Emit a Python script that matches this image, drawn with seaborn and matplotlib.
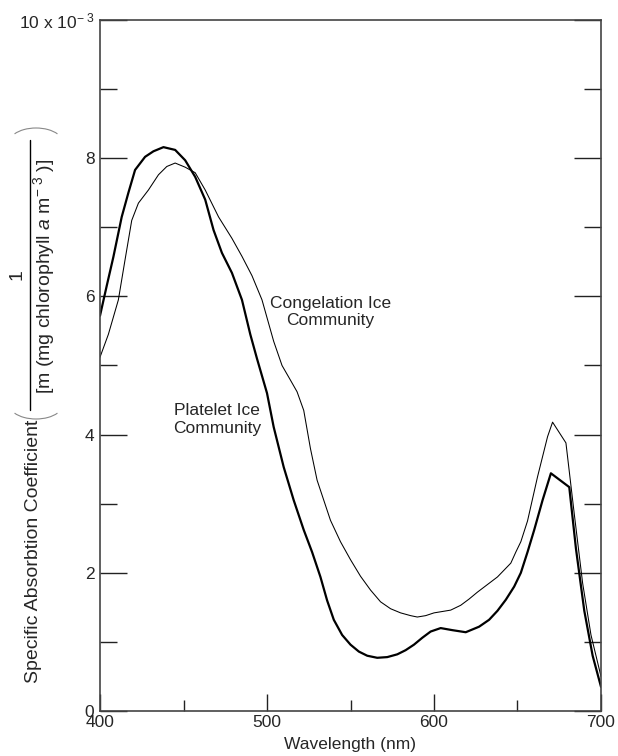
import matplotlib
matplotlib.use("Agg")

import matplotlib.pyplot as plt
from matplotlib.lines import Line2D
from matplotlib.patches import Arc
from matplotlib.ticker import MultipleLocator, FixedLocator
import seaborn as sns
import pandas as pd

# Platelet ice community (thick line), absorption x 10^-3
platelet_wl = [400, 404, 408, 413, 417, 421, 427, 432, 438, 445, 451, 457, 463,
               468, 473, 479, 485, 490, 494, 500, 504, 510, 516, 522, 527, 532,
               536, 540, 545, 550, 555, 560, 566, 572, 578, 583, 588, 593, 598,
               604, 611, 619, 627, 633, 638, 643, 648, 652, 656, 660, 665, 670,
               681, 685, 690, 695, 700]
platelet_val = [5.72, 6.15, 6.57, 7.15, 7.5, 7.83, 8.02, 8.1, 8.16, 8.12, 7.97,
                7.73, 7.4, 6.96, 6.63, 6.34, 5.95, 5.45, 5.1, 4.6, 4.11, 3.53,
                3.05, 2.62, 2.3, 1.94, 1.6, 1.32, 1.1, 0.96, 0.86, 0.8, 0.77,
                0.78, 0.82, 0.88, 0.96, 1.06, 1.15, 1.2, 1.17, 1.14, 1.22, 1.32,
                1.45, 1.61, 1.8, 2.0, 2.3, 2.62, 3.05, 3.44, 3.24, 2.35, 1.45,
                0.8, 0.35]

# Congelation ice community (thin line)
congelation_wl = [400, 405, 411, 415, 419, 423, 429, 435, 440, 445, 451, 457,
                  463, 471, 479, 485, 491, 497, 504, 509, 514, 518, 522, 526,
                  530, 538, 544, 550, 556, 562, 568, 574, 580, 586, 590, 595,
                  600, 605, 610, 616, 621, 626, 632, 638, 642, 646, 649, 652,
                  656, 662, 668, 671, 679, 684, 689, 694, 700]
congelation_val = [5.12, 5.45, 5.95, 6.53, 7.1, 7.35, 7.54, 7.76, 7.88, 7.93,
                   7.87, 7.79, 7.54, 7.15, 6.84, 6.58, 6.3, 5.95, 5.35, 5.0,
                   4.79, 4.62, 4.35, 3.8, 3.34, 2.76, 2.45, 2.19, 1.95, 1.75,
                   1.58, 1.48, 1.42, 1.38, 1.36, 1.38, 1.42, 1.44, 1.46, 1.53,
                   1.62, 1.72, 1.83, 1.94, 2.04, 2.14, 2.3, 2.45, 2.75, 3.39,
                   3.97, 4.18, 3.88, 2.85, 1.85, 1.1, 0.5]

x_ticks = [400, 500, 600, 700]
y_ticks = [0, 2, 4, 6, 8, 10]
y_tick_labels = ["0", "2", "4", "6", "8", r"10 x 10$^{-\ 3}$"]

sns.set_theme(style="ticks")
plt.rcParams["font.family"] = ["Liberation Sans", "DejaVu Sans"]
plt.rcParams["mathtext.fontset"] = "custom"
plt.rcParams["mathtext.rm"] = "Liberation Sans"
plt.rcParams["mathtext.it"] = "Liberation Sans:italic"
plt.rcParams["axes.unicode_minus"] = True

FS = 12.5
YL_FS = 14
W, H = 618, 756

fig = plt.figure(figsize=(W / 100, H / 100), dpi=100)
fig.patch.set_facecolor("white")
ax = fig.add_axes([100 / W, (H - 711) / H, (601 - 100) / W, (711 - 20) / H])

df_plat = pd.DataFrame({"wl": platelet_wl, "val": platelet_val})
df_cong = pd.DataFrame({"wl": congelation_wl, "val": congelation_val})
sns.lineplot(data=df_plat, x="wl", y="val", ax=ax, color="black", lw=1.6)
sns.lineplot(data=df_cong, x="wl", y="val", ax=ax, color="black", lw=0.75)

ax.set_xlim(400, 700)
ax.set_ylim(0, 10)
ax.xaxis.set_major_locator(FixedLocator(x_ticks))
ax.xaxis.set_minor_locator(MultipleLocator(50))
ax.yaxis.set_major_locator(FixedLocator(y_ticks))
ax.yaxis.set_minor_locator(MultipleLocator(1))
ax.set_xticklabels([str(t) for t in x_ticks], fontsize=FS)
ax.set_yticklabels(y_tick_labels, fontsize=FS)
ax.tick_params(axis="x", which="major", direction="in", length=12.2, width=1.0,
               color="#222222", pad=3, bottom=True, top=False)
ax.tick_params(axis="x", which="minor", direction="in", length=7.9, width=1.0,
               color="#222222", bottom=True, top=False)
ax.tick_params(axis="y", which="major", direction="in", length=19.4, width=1.0,
               color="#222222", pad=4, left=True, right=True)
ax.tick_params(axis="y", which="minor", direction="in", length=12.2, width=1.0,
               color="#222222", left=True, right=True)
for s in ax.spines.values():
    s.set_visible(True)
    s.set_color("#444444")
    s.set_linewidth(1.2)

ax.set_xlabel("Wavelength (nm)", fontsize=FS, labelpad=5)
ax.set_ylabel("")

ax.text(538, 5.77, "Congelation Ice\nCommunity", ha="center", va="center",
        fontsize=FS, linespacing=1.2)
ax.text(470, 4.22, "Platelet Ice\nCommunity", ha="center", va="center",
        fontsize=FS, linespacing=1.2)

# y-axis label built in pixel coordinates on an overlay
ov = fig.add_axes([0, 0, 1, 1], facecolor="none")
ov.set_xlim(0, W)
ov.set_ylim(H, 0)
ov.axis("off")
ov.text(34, 551, "Specific Absorbtion Coefficient", rotation=90,
        ha="center", va="center", fontsize=YL_FS)
ov.text(17, 275, "1", rotation=90, ha="center", va="center", fontsize=YL_FS)
ov.add_artist(Line2D([30, 30], [140, 410], color="black", lw=1.0))
ov.text(44, 276, r"[m (mg chlorophyll $\it{a}$ m$^{-\ 3}$ )]", rotation=90,
        ha="center", va="center", fontsize=YL_FS)
ov.add_patch(Arc((36, 404), 54, 30, theta1=23, theta2=157,
                 color="#888888", lw=0.8))
ov.add_patch(Arc((36, 143), 54, 30, theta1=203, theta2=337,
                 color="#888888", lw=0.8))

fig.savefig("out.png", dpi=100, facecolor="white")
